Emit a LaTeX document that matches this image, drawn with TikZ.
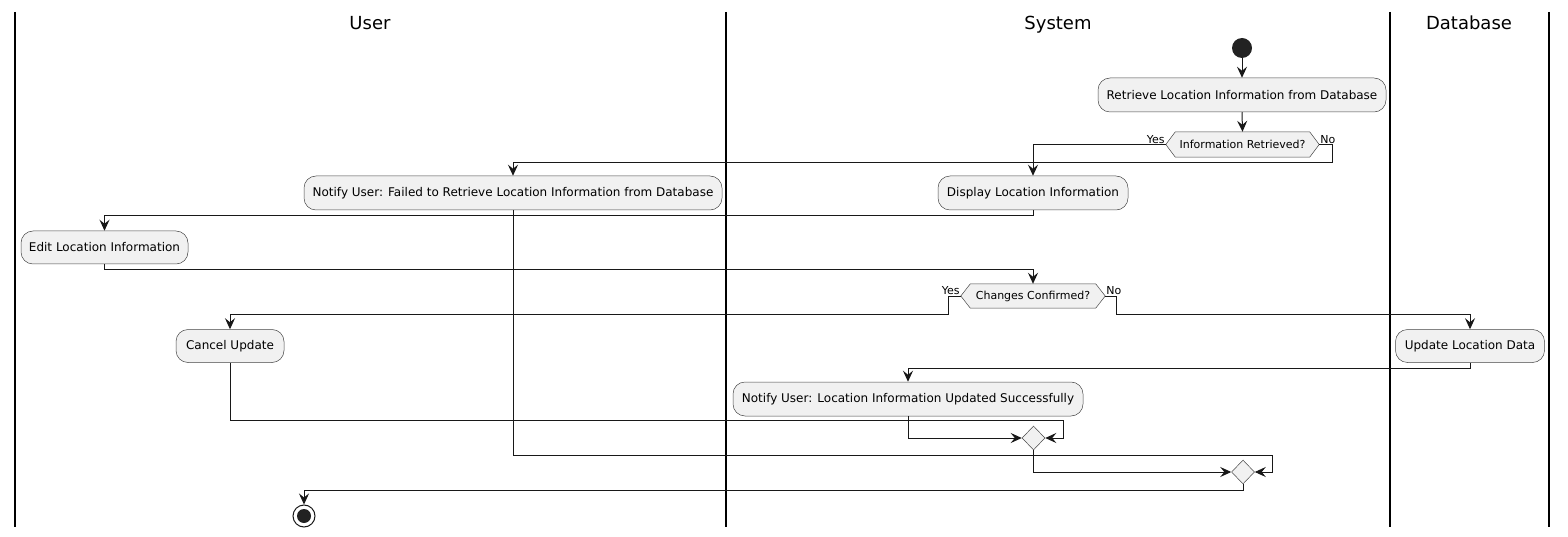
\documentclass[tikz,border=0pt]{standalone}
\usepackage{fontspec}
\setmainfont{DejaVu Sans}
\usetikzlibrary{arrows.meta,shapes.geometric,calc,backgrounds}
\definecolor{boxfill}{HTML}{F1F1F1}
\definecolor{boxline}{HTML}{181818}
\definecolor{dot}{HTML}{222222}
\tikzset{
  actbox/.style={rectangle, rounded corners=12pt, fill=boxfill, draw=boxline!80, line width=0.5pt,
    inner sep=0pt, font=\fontsize{12}{14}\selectfont},
  decbox/.style={rectangle, inner sep=0pt, font=\fontsize{11}{13}\selectfont},
  hexline/.style={fill=boxfill, draw=boxline!80, line width=0.5pt},
  mergebox/.style={diamond, fill=boxfill, draw=boxline!80, line width=0.5pt, inner sep=0pt,
    minimum width=23pt, minimum height=24pt},
  flow/.style={draw=boxline, line width=1pt, -{Stealth[length=11pt,width=10pt,inset=4pt]}},
  lane/.style={draw=black, line width=1.5pt},
  guard/.style={inner sep=1pt, font=\fontsize{11}{13}\selectfont},
  lanehead/.style={font=\fontsize{18}{21}\selectfont, inner sep=0pt, anchor=base}
}
\begin{document}
\begin{tikzpicture}[x=1pt,y=-1pt]
\useasboundingbox (0,0) rectangle (1568,537);
% lanes
\draw[lane] (15,12) -- (15,527);
\draw[lane] (726,12) -- (726,527);
\draw[lane] (1390,12) -- (1390,527);
\draw[lane] (1549,12) -- (1549,527);
\node[lanehead] (hUser) at (370,30) {User};
\node[lanehead] (hSys) at (1058,30) {System};
\node[lanehead] (hDb) at (1469,30) {Database};
% nodes
\node[circle, fill=dot, minimum size=20pt, inner sep=0pt] (start) at (1242,48) {};
\node[actbox, minimum width=288pt, minimum height=34pt] (retr) at (1242,95) {Retrieve Location Information from Database};
\node[decbox, minimum width=153pt, minimum height=25pt] (d1) at (1242.5,144.5) {Information Retrieved?};
\node[actbox, minimum width=190pt, minimum height=34pt] (disp) at (1033,193) {Display Location Information};
\node[actbox, minimum width=418pt, minimum height=34pt] (fail) at (513,193) {Notify User: Failed to Retrieve Location Information from Database};
\node[actbox, minimum width=167pt, minimum height=33pt] (edit) at (104.5,247.5) {Edit Location Information};
\node[decbox, minimum width=144pt, minimum height=24pt] (d2) at (1033,296) {Changes Confirmed?};
\node[actbox, minimum width=108pt, minimum height=33pt] (cancel) at (230,346) {Cancel Update};
\node[actbox, minimum width=149pt, minimum height=33pt] (upd) at (1470,346) {Update Location Data};
\node[actbox, minimum width=350pt, minimum height=34pt] (succ) at (908,399) {Notify User: Location Information Updated Successfully};
\node[mergebox] (m1) at (1033.5,438) {};
\node[mergebox] (m2) at (1243,472) {};
\node[circle, draw=boxline, fill=white, line width=1pt, minimum size=22pt, inner sep=0pt] (end) at (304,516) {};
\fill[dot] (end.center) circle (7pt);
% hexagons behind the decision texts
\begin{pgfonlayer}{background}
\draw[hexline] (d1.west) -- ($(d1.north west)+(9.5,0)$) -- ($(d1.north east)+(-9.5,0)$) -- (d1.east)
  -- ($(d1.south east)+(-9.5,0)$) -- ($(d1.south west)+(9.5,0)$) -- cycle;
\draw[hexline] (d2.west) -- ($(d2.north west)+(9.5,0)$) -- ($(d2.north east)+(-9.5,0)$) -- (d2.east)
  -- ($(d2.south east)+(-9.5,0)$) -- ($(d2.south west)+(9.5,0)$) -- cycle;
\end{pgfonlayer}
% guards
\node[guard, anchor=south east] (y1) at (d1.west) {Yes};
\node[guard, anchor=south west] (n1) at (d1.east) {No};
\node[guard, anchor=south east] (y2) at (d2.west) {Yes};
\node[guard, anchor=south west] (n2) at (d2.east) {No};
% connectors
\draw[flow] (start) -- (retr.north);
\draw[flow] (retr.south) -- (d1.north);
\draw[flow] (d1.west) -| (disp.north);
\draw[flow] (d1.east) -- ++(13,0) -- ++(0,18) -| (fail.north);
\draw[flow] (disp.south) -- ++(0,5) -| (edit.north);
\draw[flow] (edit.south) -- ++(0,5) -| (d2.north);
\draw[flow] (d2.west) -- ++(-12,0) -- ++(0,18) -| (cancel.north);
\draw[flow] (d2.east) -- ++(11,0) -- ++(0,18) -| (upd.north);
\draw[flow] (upd.south) -- ++(0,6) -| (succ.north);
\draw[flow] (succ.south) |- (m1.west);
\draw[flow] (cancel.south) |- ($(m1.east)+(18.5,-18)$) |- (m1.east);
\draw[flow] (m1.south) |- (m2.west);
\draw[flow] (fail.south) |- ($(m2.east)+(18,-17)$) |- (m2.east);
\draw[flow] (m2.south) -- ++(0,6) -| (end.north);
\end{tikzpicture}
\end{document}
